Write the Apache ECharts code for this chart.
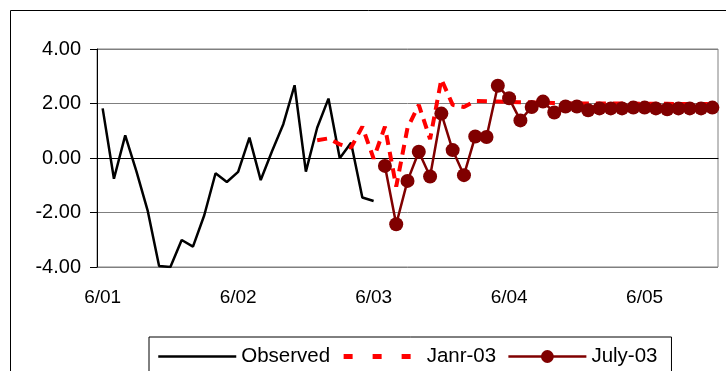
<!DOCTYPE html>
<html>
<head>
<meta charset="utf-8">
<script src="https://cdn.jsdelivr.net/npm/echarts@6/dist/echarts.min.js"></script>
<style>
  html, body { margin: 0; padding: 0; background: #fff; }
  #chart { width: 726px; height: 371px; }
</style>
</head>
<body>
<div id="chart"></div>
<script>
// monthly categories, Jun 2001 .. Dec 2005 (labels m/yy)
const months = [];
for (let y = 2001; y <= 2005; y++) {
  for (let m = (y === 2001 ? 6 : 1); m <= 12; m++) {
    months.push(m + '/' + String(y).slice(2));
  }
}

// observed series, starts Jun 2001
const observed = [1.82, -0.76, 0.83, -0.5, -1.95, -3.96, -4.0, -3.01, -3.25, -2.1,
  -0.56, -0.88, -0.51, 0.75, -0.81, 0.25, 1.24, 2.67, -0.5, 1.11,
  2.18, -0.01, 0.56, -1.45, -1.58];

// forecast made in January 2003, starts Jan 2003
const janr03Start = 19;
const janr03 = [0.65, 0.72, 0.5, 0.38, 1.15, -0.02, 1.15, -1.05, 1.1, 1.95,
  0.69, 2.89, 1.95, 1.87, 2.09, 2.08, 2.07, 2.06, 2.05, 2.04,
  2.03, 2.02, 2.01, 2.0, 2.0, 2.0, 2.0, 2.0, 2.0, 1.99,
  1.99, 1.99, 1.98, 1.98, 1.98, 1.98];

// forecast made in July 2003, starts Jul 2003
const july03Start = 25;
const july03 = [-0.29, -2.43, -0.84, 0.23, -0.68, 1.63, 0.29, -0.63, 0.79, 0.77,
  2.65, 2.19, 1.38, 1.87, 2.07, 1.67, 1.89, 1.89, 1.75, 1.82,
  1.82, 1.82, 1.85, 1.85, 1.82, 1.79, 1.82, 1.82, 1.82, 1.85];

const yMin = -4, yMax = 4, yStep = 2;

function placeAt(start, values) {
  const out = months.map(() => null);
  values.forEach((v, i) => { out[start + i] = v; });
  return out;
}

const chart = echarts.init(document.getElementById('chart'));

const option = {
  animation: false,
  textStyle: { fontFamily: 'Liberation Sans', color: '#000' },
  graphic: [
    {
      type: 'rect',
      shape: { x: 10.5, y: 10.5, width: 800, height: 400 },
      style: { fill: null, stroke: '#000', lineWidth: 1 },
      silent: true
    }
  ],
  grid: {
    left: 97,
    right: 8,
    top: 49,
    bottom: 104,
    show: true,
    borderColor: '#808080',
    borderWidth: 1
  },
  legend: {
    left: 149,
    top: 337,
    padding: [9, 14, 9, 8],
    itemGap: 11,
    itemWidth: 78,
    itemHeight: 16,
    borderColor: '#000',
    borderWidth: 1,
    textStyle: { fontSize: 20.5, color: '#000', fontFamily: 'Liberation Sans' },
    data: [
      { name: 'Observed', itemStyle: { opacity: 0 }, lineStyle: { width: 2.5 } },
      { name: 'Janr-03', itemStyle: { opacity: 0 }, lineStyle: { width: 5, type: [9, 20] } },
      { name: 'July-03', lineStyle: { width: 2.5 } }
    ]
  },
  xAxis: {
    type: 'category',
    data: months,
    boundaryGap: true,
    axisLine: { lineStyle: { color: '#000', width: 1 } },
    axisTick: { interval: 5, length: 6, lineStyle: { color: '#000' } },
    axisLabel: { interval: 11, fontSize: 19, color: '#000', margin: 21 },
    splitLine: { show: false }
  },
  yAxis: {
    type: 'value',
    min: yMin,
    max: yMax,
    interval: yStep,
    axisLine: { show: true, lineStyle: { color: '#000', width: 1 } },
    axisTick: { show: true, length: 7, lineStyle: { color: '#000' } },
    axisLabel: {
      fontSize: 20,
      color: '#000',
      margin: 16,
      formatter: v => v.toFixed(2)
    },
    splitLine: { lineStyle: { color: '#7f7f7f', width: 1 } }
  },
  series: [
    {
      name: 'Observed',
      type: 'line',
      data: placeAt(0, observed),
      symbol: 'none',
      lineStyle: { color: '#000', width: 2.5 },
      itemStyle: { color: '#000' },
      z: 2
    },
    {
      name: 'Janr-03',
      type: 'line',
      data: placeAt(janr03Start, janr03),
      symbol: 'none',
      lineStyle: { color: '#ff0000', width: 4, type: [10, 7] },
      itemStyle: { color: '#ff0000' },
      z: 3
    },
    {
      name: 'July-03',
      type: 'line',
      data: placeAt(july03Start, july03),
      symbol: 'circle',
      symbolSize: 14,
      showAllSymbol: true,
      lineStyle: { color: '#800000', width: 2.5 },
      itemStyle: { color: '#800000' },
      z: 4
    }
  ]
};

chart.setOption(option);
</script>
</body>
</html>
